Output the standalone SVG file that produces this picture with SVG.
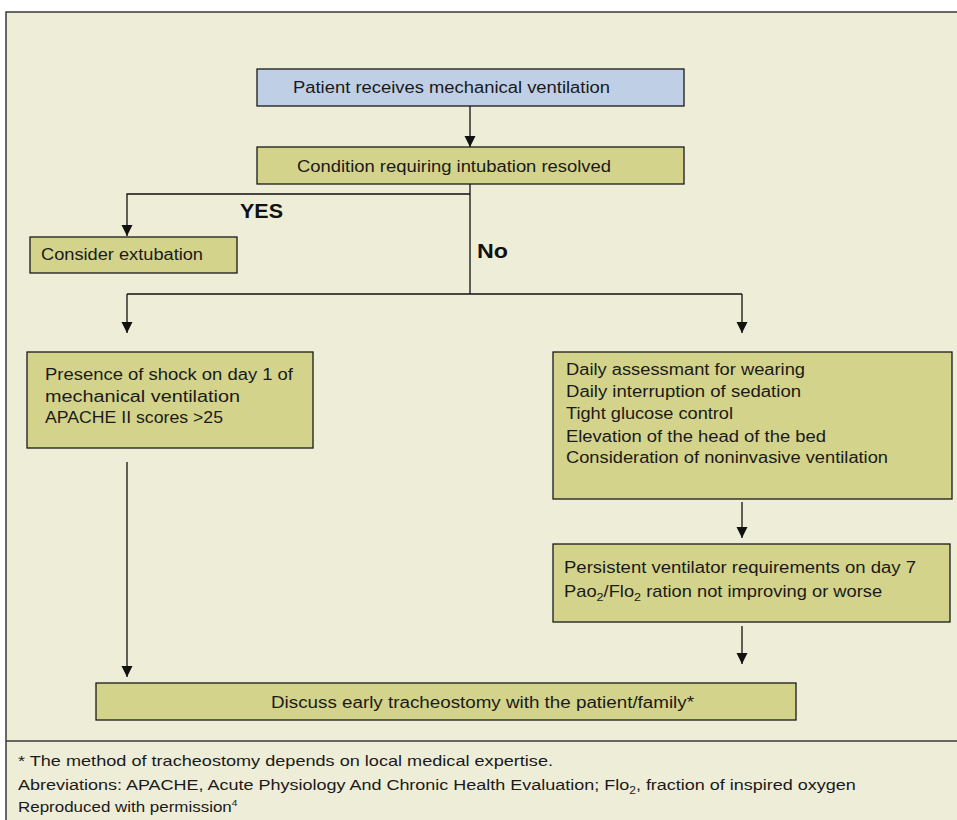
<svg xmlns="http://www.w3.org/2000/svg" width="957" height="820" viewBox="0 0 957 820">
<style>
.bg{fill:#EEEDD8;stroke:#3a3a3a;stroke-width:1.5}
.box{fill:#D4D38B;stroke:#1a1a1a;stroke-width:1.3}
.blue{fill:#BFCFE5;stroke:#1a1a1a;stroke-width:1.3}
.t{font-family:"Liberation Sans",Arial,sans-serif;font-size:16px;fill:#1a1a1a}
.n{font-family:"Liberation Sans Narrow","Liberation Sans",Arial,sans-serif;font-size:16px;fill:#1a1a1a}
.f{font-family:"Liberation Sans Narrow","Liberation Sans",Arial,sans-serif;font-size:15px;fill:#1a1a1a}
.b{font-family:"Liberation Sans",Arial,sans-serif;font-size:20px;font-weight:bold;fill:#111}
.c{fill:none;stroke:#111;stroke-width:1.3}
</style>
<defs>
<marker id="ah" markerUnits="userSpaceOnUse" markerWidth="12" markerHeight="12" refX="11" refY="6" orient="auto">
<path d="M0,0.5 L11,6 L0,11.5 Z" fill="#111"/>
</marker>
</defs>
<rect class="bg" x="6" y="12" width="960" height="820"/>
<line x1="6" y1="741" x2="957" y2="741" stroke="#3a3a3a" stroke-width="1.5"/>

<g id="connectors">
<line class="c" x1="470" y1="106" x2="470" y2="147" marker-end="url(#ah)"/>
<line class="c" x1="470" y1="184" x2="470" y2="294"/>
<polyline class="c" points="470,194 127,194 127,236" marker-end="url(#ah)"/>
<line class="c" x1="127" y1="294" x2="742" y2="294"/>
<line class="c" x1="127" y1="294" x2="127" y2="333" marker-end="url(#ah)"/>
<line class="c" x1="742" y1="294" x2="742" y2="333" marker-end="url(#ah)"/>
<line class="c" x1="127" y1="462" x2="127" y2="677" marker-end="url(#ah)"/>
<line class="c" x1="742" y1="502" x2="742" y2="538" marker-end="url(#ah)"/>
<line class="c" x1="742" y1="626" x2="742" y2="664" marker-end="url(#ah)"/>
<text class="b" x="240" y="218" textLength="43" lengthAdjust="spacingAndGlyphs">YES</text>
<text class="b" x="477" y="258" textLength="31" lengthAdjust="spacingAndGlyphs">No</text>
</g>

<g id="n-start">
<rect class="blue" x="257" y="69" width="427" height="37"/>
<text class="n" x="293" y="93" textLength="317" lengthAdjust="spacingAndGlyphs">Patient receives mechanical ventilation</text>
</g>

<g id="n-condition">
<rect class="box" x="257" y="147" width="427" height="37"/>
<text class="t" x="297" y="172" textLength="314" lengthAdjust="spacingAndGlyphs">Condition requiring intubation resolved</text>
</g>

<g id="n-extubation">
<rect class="box" x="30" y="237" width="207" height="36"/>
<text class="t" x="41" y="260" textLength="162" lengthAdjust="spacingAndGlyphs">Consider extubation</text>
</g>

<g id="n-shock">
<rect class="box" x="27" y="352" width="286" height="96"/>
<text class="t" x="45" y="380" textLength="248" lengthAdjust="spacingAndGlyphs">Presence of shock on day 1 of</text>
<text class="t" x="45" y="402" textLength="195" lengthAdjust="spacingAndGlyphs">mechanical ventilation</text>
<text class="t" x="45" y="423" textLength="178" lengthAdjust="spacingAndGlyphs">APACHE II scores &gt;25</text>
</g>

<g id="n-daily">
<rect class="box" x="553" y="352" width="399" height="147"/>
<text class="t" x="566" y="375" textLength="239" lengthAdjust="spacingAndGlyphs">Daily assessmant for wearing</text>
<text class="t" x="566" y="397" textLength="235" lengthAdjust="spacingAndGlyphs">Daily interruption of sedation</text>
<text class="t" x="566" y="419" textLength="167" lengthAdjust="spacingAndGlyphs">Tight glucose control</text>
<text class="t" x="566" y="442" textLength="260" lengthAdjust="spacingAndGlyphs">Elevation of the head of the bed</text>
<text class="t" x="566" y="463" textLength="322" lengthAdjust="spacingAndGlyphs">Consideration of noninvasive ventilation</text>
</g>

<g id="n-persistent">
<rect class="box" x="553" y="544" width="397" height="78"/>
<text class="t" x="564" y="573" textLength="352" lengthAdjust="spacingAndGlyphs">Persistent ventilator requirements on day 7</text>
<text class="t" x="0" y="597" transform="translate(564,0) scale(1.144,1)">Pao<tspan font-size="11" dy="4">2</tspan><tspan dy="-4">/Flo</tspan><tspan font-size="11" dy="4">2</tspan><tspan dy="-4"> ration not improving or worse</tspan></text>
</g>

<g id="n-discuss">
<rect class="box" x="96" y="683" width="700" height="37"/>
<text class="n" x="271" y="708" textLength="423" lengthAdjust="spacingAndGlyphs">Discuss early tracheostomy with the patient/family*</text>
</g>

<g id="footer">
<text class="f" x="18" y="766" textLength="535" lengthAdjust="spacingAndGlyphs">* The method of tracheostomy depends on local medical expertise.</text>
<text class="f" x="0" y="790" transform="translate(18,0) scale(1.2,1)">Abreviations: APACHE, Acute Physiology And Chronic Health Evaluation; Flo<tspan font-size="10" dy="4">2</tspan><tspan dy="-4">, fraction of inspired oxygen</tspan></text>
<text class="f" x="0" y="812" transform="translate(18,0) scale(1.13,1)">Reproduced with permission<tspan font-size="9" dy="-6">4</tspan></text>
</g>
</svg>
